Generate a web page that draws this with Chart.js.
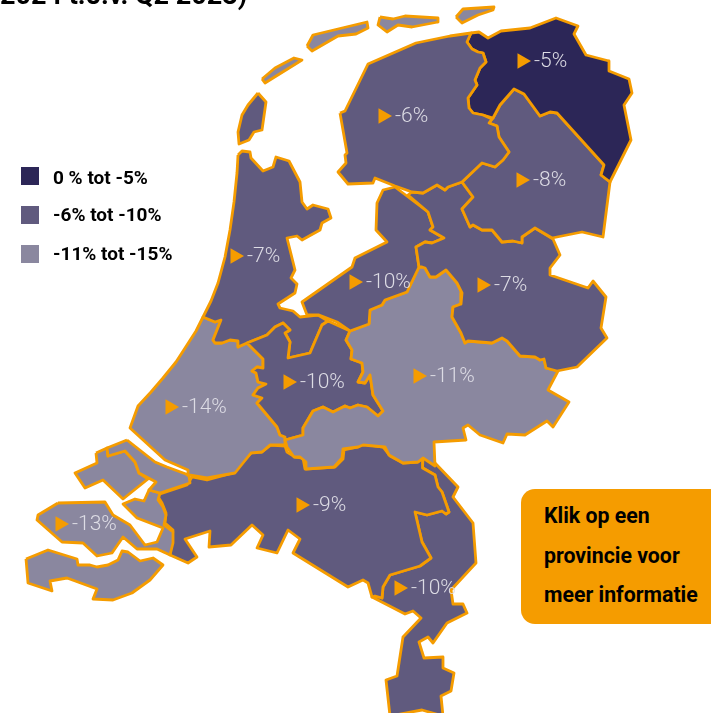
<!DOCTYPE html>
<html lang="nl">
<head>
<meta charset="utf-8">
<title>Provincies</title>
<script src="https://cdn.jsdelivr.net/npm/chart.js@4/dist/chart.umd.min.js"></script>
<style>
  html, body { margin: 0; padding: 0; background: #fff; }
  body { position: relative; width: 711px; height: 713px; overflow: hidden; font-family: Roboto, sans-serif; color: #000; }
  #map { position: absolute; left: 0; top: 0; }
  #title { position: absolute; left: 0; top: -20px; font-size: 27px; font-weight: 700; white-space: nowrap; line-height: 30px; }
  .legend-row { position: absolute; left: 21px; height: 18px; }
  .legend-row i { position: absolute; left: 0; top: 0; width: 18px; height: 18px; }
  .legend-row span { position: absolute; left: 32px; font-size: 19px; font-weight: 700; line-height: 22px; white-space: nowrap; }
  #hint { position: absolute; left: 521px; top: 489px; width: 190px; height: 135px; background: #f59c00; border-radius: 14px 0 0 14px; }
  #hint div { position: absolute; left: 23px; font-size: 21.3px; font-weight: 700; line-height: 24px; white-space: nowrap; }
</style>
</head>
<body>
<canvas id="map" width="711" height="713"></canvas>
<div id="title">2024 t.o.v. Q2 2023)</div>
<div id="legend"></div>
<div id="hint">
  <div style="top:15px">Klik op een</div>
  <div style="top:55px">provincie voor</div>
  <div style="top:94px">meer informatie</div>
</div>

<script>
/* ================= DATA ================= */

const provinceNames = ["Friesland", "Groningen", "Drenthe", "Overijssel", "Flevoland", "Gelderland", "Utrecht", "Noord-Holland", "Zuid-Holland", "Zeeland", "Noord-Brabant", "Limburg"];
const provinceChanges = [-6, -5, -8, -7, -10, -11, -10, -7, -14, -13, -9, -10];
const waddenChange = -11;

const legendLabels = ["0 % tot -5%", "-6% tot -10%", "-11% tot -15%"];
const classLimits = [-5, -10, -15];
const classColors = ["#2c2657", "#605a7e", "#8a879f"];

// map outlines, in map units (same size as the picture)
const friesland = [[340,113],[345,111],[368,64],[416,43],[450,36],[471,33],[467,42],[472,49],[478,52],[483,53],[486,62],[480,68],[475,80],[477,85],[468,98],[469,108],[473,113],[483,115],[492,119],[489,123],[497,126],[499,137],[509,152],[503,160],[495,167],[482,163],[462,182],[448,187],[445,190],[437,185],[423,193],[412,192],[395,186],[375,178],[373,183],[348,184],[338,172],[346,163],[345,155],[347,153]];
const groningen = [[471,33],[479,32],[488,38],[501,31],[530,28],[556,18],[578,26],[574,34],[586,55],[609,61],[609,71],[629,79],[632,93],[624,105],[631,140],[610,182],[601,175],[604,165],[557,113],[550,112],[540,116],[524,94],[514,89],[500,105],[493,118],[483,115],[473,113],[469,108],[468,98],[477,85],[475,80],[480,68],[486,62],[483,53],[478,52],[472,49],[467,42]];
const drenthe = [[493,118],[500,105],[514,89],[524,94],[540,116],[550,112],[557,113],[604,165],[601,175],[610,182],[603,237],[582,232],[552,238],[535,228],[522,237],[522,243],[513,241],[502,242],[492,230],[482,230],[473,225],[470,227],[462,209],[473,197],[462,182],[482,163],[495,167],[503,160],[509,152],[499,137],[497,126],[489,123]];
const overijssel = [[462,182],[448,187],[445,190],[437,185],[423,193],[412,192],[408,195],[428,212],[433,227],[430,230],[444,238],[432,243],[425,242],[416,247],[419,267],[422,267],[425,268],[430,277],[436,277],[446,270],[457,283],[462,293],[461,304],[453,307],[452,317],[461,333],[465,343],[468,341],[492,343],[502,338],[507,341],[520,356],[535,357],[540,360],[544,359],[546,368],[557,371],[577,367],[607,338],[601,328],[606,297],[593,281],[588,288],[550,275],[550,268],[560,255],[553,239],[535,228],[522,237],[522,243],[513,241],[502,242],[492,230],[482,230],[473,225],[470,227],[462,209],[473,197]];
const flevoland = [[395,187],[383,190],[377,203],[376,230],[387,242],[355,258],[352,267],[302,302],[307,315],[319,315],[337,322],[350,331],[369,324],[370,310],[382,305],[385,300],[407,292],[419,267],[416,247],[425,242],[432,243],[444,238],[430,230],[433,227],[428,212]];
const gelderland = [[419,267],[422,267],[425,268],[430,277],[436,277],[446,270],[457,283],[462,293],[461,304],[453,307],[452,317],[461,333],[465,343],[468,341],[492,343],[502,338],[507,341],[520,356],[535,357],[540,360],[544,359],[546,368],[558,371],[548,390],[569,402],[553,427],[547,421],[525,435],[507,434],[503,443],[480,435],[468,425],[463,428],[466,440],[434,442],[435,466],[423,458],[418,462],[403,463],[389,455],[385,447],[363,445],[358,447],[343,449],[342,458],[334,467],[306,469],[306,462],[300,457],[294,457],[287,447],[285,440],[303,435],[303,428],[313,411],[323,407],[333,412],[345,406],[350,408],[358,405],[367,407],[378,416],[383,411],[373,395],[370,375],[365,383],[358,382],[363,372],[362,363],[351,359],[352,350],[346,340],[350,331],[369,324],[370,310],[382,305],[385,300],[407,292]];
const utrecht = [[247,343],[267,335],[275,327],[283,323],[290,330],[285,333],[290,342],[288,358],[310,353],[322,325],[328,321],[350,331],[346,340],[352,350],[351,359],[362,363],[363,372],[358,382],[365,383],[370,375],[373,395],[383,411],[378,416],[367,407],[358,405],[350,408],[345,406],[333,412],[323,407],[313,411],[303,428],[303,435],[285,440],[285,437],[280,435],[277,427],[267,415],[257,403],[262,398],[253,395],[258,388],[266,384],[258,382],[256,373],[252,371],[257,367],[263,368],[263,359]];
const noordHolland = [[238,155],[242,151],[250,152],[251,158],[263,171],[273,167],[276,157],[289,161],[300,182],[302,202],[307,209],[313,205],[328,209],[331,218],[322,223],[320,230],[302,240],[297,236],[287,238],[295,270],[291,278],[297,284],[295,293],[278,304],[280,308],[293,311],[300,317],[318,315],[328,321],[322,325],[310,353],[288,358],[290,342],[285,333],[290,330],[283,323],[275,327],[267,335],[247,343],[238,347],[238,341],[230,340],[222,343],[215,343],[213,340],[221,320],[215,322],[203,317],[211,301],[218,283],[225,257],[230,230],[234,202],[237,173]];
const texel = [[258,93],[266,102],[262,130],[254,132],[249,140],[239,144],[238,132],[242,115],[248,105]];
const zuidHolland = [[203,317],[215,322],[221,320],[213,340],[215,343],[222,343],[230,340],[238,341],[238,347],[247,343],[263,359],[263,368],[257,367],[252,371],[256,373],[258,382],[266,384],[258,388],[253,395],[262,398],[257,403],[267,415],[277,427],[280,435],[285,437],[285,445],[270,445],[262,452],[251,453],[235,473],[207,478],[189,475],[188,470],[165,460],[130,428],[138,406],[151,392],[163,378],[176,362],[187,345],[196,331]];
const goeree = [[127,440],[107,448],[108,456],[125,451],[135,462],[139,473],[156,482],[149,490],[160,493],[190,483],[189,476],[186,474],[167,467],[155,462]];
const schouwen = [[96,453],[107,448],[108,456],[125,451],[135,462],[139,473],[148,479],[123,499],[103,480],[85,488],[75,473],[97,463]];
const beveland = [[58,503],[105,502],[113,515],[130,525],[145,545],[157,542],[163,528],[137,518],[123,504],[135,499],[144,501],[149,490],[160,493],[158,500],[163,507],[166,515],[164,525],[173,532],[173,543],[170,555],[157,549],[137,549],[123,537],[112,553],[97,556],[83,543],[62,542],[37,520],[38,515]];
const zeeuwsVlaanderen = [[26,559],[48,550],[77,559],[78,565],[90,565],[97,567],[108,565],[118,560],[122,551],[128,552],[140,561],[153,558],[163,565],[150,580],[132,593],[113,600],[93,599],[97,589],[67,578],[50,581],[52,591],[28,583]];
const noordBrabant = [[157,495],[187,485],[192,477],[207,480],[233,473],[252,452],[262,452],[271,445],[285,446],[287,452],[295,457],[303,458],[305,469],[335,467],[343,459],[344,450],[358,447],[363,444],[383,447],[390,456],[403,463],[418,462],[423,458],[422,463],[423,468],[435,475],[438,487],[442,492],[449,512],[446,514],[442,511],[427,515],[415,512],[422,542],[431,558],[420,566],[390,575],[383,587],[382,598],[375,596],[372,597],[368,583],[363,580],[348,587],[293,553],[300,539],[288,530],[277,553],[257,548],[263,535],[252,525],[231,545],[209,547],[210,531],[185,539],[197,557],[188,563],[170,555],[173,530],[165,523],[166,513],[162,503]];
const limburg = [[423,458],[435,463],[458,487],[453,497],[473,523],[476,563],[451,590],[453,604],[463,604],[467,613],[447,623],[433,643],[428,637],[419,642],[424,658],[443,657],[443,668],[454,673],[451,691],[441,696],[443,716],[422,710],[390,716],[386,680],[397,676],[403,637],[421,618],[413,611],[405,614],[372,597],[375,596],[382,598],[383,587],[390,575],[420,566],[431,558],[422,542],[415,512],[427,515],[442,511],[446,514],[449,512],[442,492],[438,487],[435,475],[423,468],[422,463]];
const vlieland = [[262,79],[275,68],[294,58],[302,60],[265,83]];
const terschelling = [[307,46],[313,35],[367,22],[368,28],[356,34],[338,36],[312,51]];
const ameland = [[380,17],[393,19],[405,16],[438,18],[438,22],[412,27],[398,25],[387,32],[378,25]];
const schiermonnikoog = [[456,17],[463,9],[494,7],[493,10],[478,15],[462,23]];
const gooiDot = [[282,317],[284,317],[284,319],[282,319]];

const provinceOutlines = [[friesland], [groningen], [drenthe], [overijssel], [flevoland], [gelderland], [utrecht], [noordHolland, texel, gooiDot], [zuidHolland, goeree], [schouwen, beveland, zeeuwsVlaanderen], [noordBrabant], [limburg]];
const waddenOutlines = [vlieland, terschelling, ameland, schiermonnikoog];

// where each province label sits on the map
const labelSpots = [[383,116],[522,61],[521,180],[235,256],[354,282],[482,285],[418,376],[288,382],[170,407],[60,524],[301,505],[399,588]];
const labelValues = [-6, -5, -8, -7, -10, -7, -11, -10, -14, -13, -9, -10];

/* ================= HELPERS ================= */

const ORANGE = "#f59c00";

function colorFor(change) {
  const i = classLimits.findIndex(limit => change >= limit);
  return classColors[i];
}

function outlineDataset(name, ring, change) {
  const points = ring.concat([ring[0]]).map(p => ({ x: p[0], y: p[1] }));
  return {
    label: name,
    data: points,
    showLine: true,
    fill: "shape",
    tension: 0,
    backgroundColor: colorFor(change),
    borderColor: ORANGE,
    borderWidth: 2.8,
    borderJoinStyle: "round",
    pointRadius: 0,
    clip: false
  };
}

const datasets = [];

provinceOutlines.forEach((rings, i) => {
  rings.forEach(ring => datasets.push(outlineDataset(provinceNames[i], ring, provinceChanges[i])));
});
waddenOutlines.forEach(ring => datasets.push(outlineDataset("Waddeneilanden", ring, waddenChange)));

// lower order is drawn on top, the markers have to sit above the fills
datasets.push({
  label: "markers",
  data: labelSpots.map(p => ({ x: p[0], y: p[1] })),
  order: -1,
  pointStyle: "triangle",
  pointRotation: 90,
  pointRadius: 9,
  pointBackgroundColor: ORANGE,
  pointBorderWidth: 0,
  showLine: false,
  clip: false
});

/* ================= LABELS ================= */

const labelPlugin = {
  id: "provinceLabels",
  afterDatasetsDraw(chart) {
    const { ctx, scales } = chart;
    ctx.save();
    ctx.font = "300 21px Roboto, sans-serif";
    ctx.fillStyle = "#dddce5";
    ctx.textAlign = "left";
    ctx.textBaseline = "middle";
    labelSpots.forEach((p, i) => {
      const px = scales.x.getPixelForValue(p[0]) + 12;
      const py = scales.y.getPixelForValue(p[1]);
      ctx.fillText(labelValues[i] + "%", px, py + 1);
    });
    ctx.restore();
  }
};

new Chart(document.getElementById("map"), {
  type: "scatter",
  data: { datasets },
  plugins: [labelPlugin],
  options: {
    responsive: false,
    animation: false,
    layout: { padding: 0, autoPadding: false },
    plugins: {
      legend: { display: false },
      tooltip: { enabled: false }
    },
    scales: {
      x: { type: "linear", display: false, min: 0, max: 711 },
      y: { type: "linear", display: false, min: 0, max: 713, reverse: true }
    }
  }
});

/* ================= LEGEND ================= */

const legendTops = [167, 206, 245];
const legendTextOffsets = [0, -2, -2];
document.getElementById("legend").innerHTML = legendLabels.map((text, i) => `
  <div class="legend-row" style="top:${legendTops[i]}px">
    <i style="background:${classColors[i]}"></i><span style="top:${legendTextOffsets[i]}px">${text}</span>
  </div>`).join("");
</script>
</body>
</html>
